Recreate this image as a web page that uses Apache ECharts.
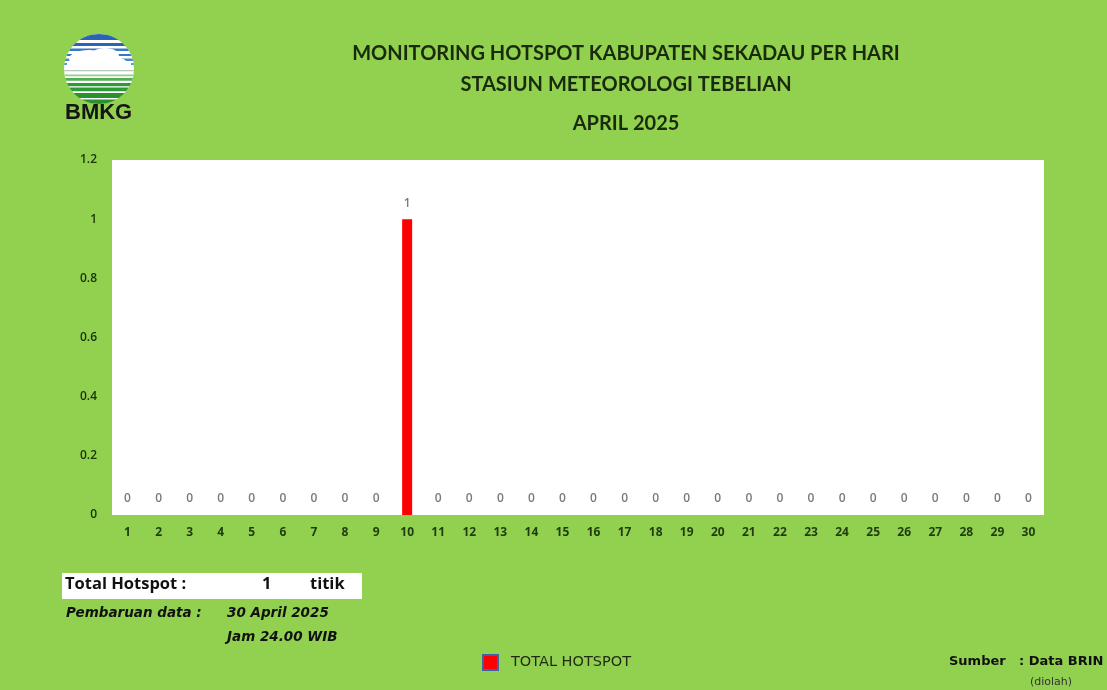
<!DOCTYPE html>
<html>
<head>
<meta charset="utf-8">
<script src="https://cdn.jsdelivr.net/npm/echarts@6/dist/echarts.min.js"></script>
<style>
html,body{margin:0;padding:0;background:#92D050;}
#c{width:1107px;height:690px;}
</style>
</head>
<body>
<div id="c"></div>
<script>
const days = ['1','2','3','4','5','6','7','8','9','10','11','12','13','14','15','16','17','18','19','20','21','22','23','24','25','26','27','28','29','30'];
const hotspots = [0,0,0,0,0,0,0,0,0,1,0,0,0,0,0,0,0,0,0,0,0,0,0,0,0,0,0,0,0,0];
const seriesName = 'TOTAL HOTSPOT';
const titleLines = ['MONITORING HOTSPOT KABUPATEN SEKADAU PER HARI','STASIUN METEOROLOGI TEBELIAN','APRIL 2025'];
const totalHotspot = hotspots.reduce((a,b)=>a+b,0);

const chart = echarts.init(document.getElementById('c'), null, {renderer:'canvas'});

// ---- logo (decoration) ----
const cx = 99, cy = 69, r = 35;
function band(y1, y2, color){
  const pts = [];
  const n = 8;
  for(let i=0;i<=n;i++){ const y = y1+(y2-y1)*i/n; const dy=y-cy; pts.push([cx+Math.sqrt(Math.max(0,r*r-dy*dy)), y]); }
  for(let i=n;i>=0;i--){ const y = y1+(y2-y1)*i/n; const dy=y-cy; pts.push([cx-Math.sqrt(Math.max(0,r*r-dy*dy)), y]); }
  return {type:'polygon', shape:{points:pts}, style:{fill:color}, silent:true};
}
const blue = '#2b63b5', green = '#2e9a35';
const logo = [
  {type:'circle', shape:{cx:cx, cy:cy, r:r}, style:{fill:'#ffffff'}},
  band(34, 40, blue),
  band(43, 46, blue),
  band(48.5, 51, '#3a78c6'),
  band(54, 56, '#3a78c6'),
  band(58.5, 61, '#4a88d0'),
  band(63, 65, '#5a96d6'),
  {type:'ellipse', shape:{cx:cx-10, cy:cy-10, rx:20, ry:9}, style:{fill:'#ffffff'}},
  {type:'ellipse', shape:{cx:cx+6, cy:cy-13, rx:14, ry:8}, style:{fill:'#ffffff'}},
  {type:'ellipse', shape:{cx:cx+14, cy:cy-6, rx:14, ry:6}, style:{fill:'#ffffff'}},
  {type:'rect', shape:{x:cx-32, y:cy-6, width:64, height:7}, style:{fill:'#ffffff'}},
  band(70, 71.2, '#b9c7b9'),
  band(74.5, 76.3, '#8fd08f'),
  band(78, 80.7, '#4fae4f'),
  band(83, 86.3, green),
  band(87.5, 91.3, green),
  band(93, 98, '#2a9030'),
  band(99.5, 104, '#2a9030'),
  {type:'text', left:65, top:102, style:{text:'BMKG', font:'bold 22px "Liberation Sans", Arial, sans-serif', fill:'#151515'}}
];

const dark = '#1a2a0c';
const option = {
  backgroundColor:'#92D050',
  animation:false,
  grid:{left:112, right:63, top:160, bottom:175, show:true, backgroundColor:'#ffffff', borderWidth:0},
  xAxis:{
    type:'category', data:days,
    axisLine:{show:false}, axisTick:{show:false},
    axisLabel:{color:'#1f3d0c', fontSize:12, fontWeight:'bold', fontFamily:'"Open Sans", sans-serif', margin:12}
  },
  yAxis:{
    type:'value', min:0, max:1.2, interval:0.2,
    axisLine:{show:false}, axisTick:{show:false}, splitLine:{show:false},
    axisLabel:{color:'#1a330a', fontSize:12, fontWeight:600, fontFamily:'"Open Sans", sans-serif', margin:15,
      formatter:v=>String(Math.round(v*10)/10)}
  },
  legend:{
    bottom:19, left:482, padding:0, itemWidth:15, itemHeight:15, itemGap:13,
    textStyle:{color:'#1f2a10', fontSize:14.5, fontFamily:'"DejaVu Sans", sans-serif', padding:[0,0,0,8]},
    data:[{name:seriesName, icon:'rect', itemStyle:{color:'#ff0000', borderColor:'#3d63a8', borderWidth:2}}]
  },
  series:[{
    name:seriesName, type:'bar', data:hotspots, barWidth:10,
    itemStyle:{color:'#ff0000'},
    label:{show:true, position:'top', distance:10, color:'#7a7a7a', fontSize:12, fontWeight:600, fontFamily:'"Open Sans", sans-serif'}
  }],
  graphic:[
    ...logo,
    {type:'text', x:626, y:44, style:{text:titleLines[0], font:'bold 20px Lato, sans-serif', fill:dark, align:'center', textAlign:'center'}},
    {type:'text', x:626, y:75, style:{text:titleLines[1], font:'bold 20px Lato, sans-serif', fill:dark, align:'center', textAlign:'center'}},
    {type:'text', x:626, y:114, style:{text:titleLines[2], font:'bold 20px Lato, sans-serif', fill:dark, align:'center', textAlign:'center'}},
    {type:'rect', shape:{x:62, y:573, width:300, height:26}, style:{fill:'#ffffff'}},
    {type:'text', left:65, top:576, style:{text:'Total Hotspot :', font:'bold 16.5px "Open Sans", sans-serif', fill:'#111'}},
    {type:'text', left:262, top:576, style:{text:String(totalHotspot), font:'bold 16.5px "Open Sans", sans-serif', fill:'#111'}},
    {type:'text', left:310, top:576, style:{text:'titik', font:'bold 16.5px "Open Sans", sans-serif', fill:'#111'}},
    {type:'text', left:66, top:606, style:{text:'Pembaruan data :', font:'italic bold 13.5px "DejaVu Sans", sans-serif', fill:'#111'}},
    {type:'text', left:227, top:606, style:{text:'30 April 2025', font:'italic bold 13.5px "DejaVu Sans", sans-serif', fill:'#111'}},
    {type:'text', left:227, top:630, style:{text:'Jam 24.00 WIB', font:'italic bold 13.5px "DejaVu Sans", sans-serif', fill:'#111'}},
    {type:'text', left:949, top:655, style:{text:'Sumber', font:'bold 13px "DejaVu Sans", sans-serif', fill:'#111'}},
    {type:'text', left:1019, top:655, style:{text:': Data BRIN', font:'bold 13px "DejaVu Sans", sans-serif', fill:'#111'}},
    {type:'text', left:1030, top:677, style:{text:'(diolah)', font:'11px "DejaVu Sans", sans-serif', fill:'#333'}}
  ]
};
chart.setOption(option);
</script>
</body>
</html>
